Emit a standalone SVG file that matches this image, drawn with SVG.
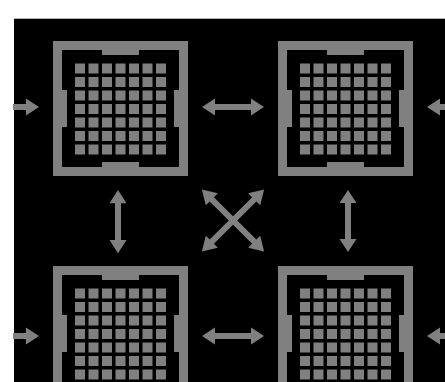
<svg xmlns="http://www.w3.org/2000/svg" xmlns:xlink="http://www.w3.org/1999/xlink" width="445" height="382" viewBox="0 0 445 382">
<style>
.g{fill:#808080}
</style>
<defs>
<g id="chip" class="g">
<path fill-rule="evenodd" d="M0,0H135V135H0Z M9,9V126H126V9Z"/>
<rect x="49" y="9" width="37" height="5"/>
<rect x="49" y="121" width="37" height="5"/>
<rect x="9" y="49" width="5" height="37"/>
<rect x="121" y="49" width="5" height="37"/>
<g id="row">
<rect x="22" y="22.5" width="10" height="10"/>
<rect x="35.5" y="22.5" width="10" height="10"/>
<rect x="49" y="22.5" width="10" height="10"/>
<rect x="62.5" y="22.5" width="10" height="10"/>
<rect x="76" y="22.5" width="10" height="10"/>
<rect x="89.5" y="22.5" width="10" height="10"/>
<rect x="103" y="22.5" width="10" height="10"/>
</g>
<use xlink:href="#row" href="#row" y="13.5"/>
<use xlink:href="#row" href="#row" y="27"/>
<use xlink:href="#row" href="#row" y="40.5"/>
<use xlink:href="#row" href="#row" y="54"/>
<use xlink:href="#row" href="#row" y="67.5"/>
<use xlink:href="#row" href="#row" y="81"/>
</g>
<polygon id="dbl" points="0,0 13,-8.5 13,-3 49,-3 49,-8.5 62,0 49,8.5 49,3 13,3 13,8.5"/>
<polygon id="diag" points="0,0 14,-8.5 14,-3 74,-3 74,-8.5 88,0 74,8.5 74,3 14,3 14,8.5"/>
</defs>
<rect x="0" y="0" width="445" height="382" fill="#ffffff"/>
<rect x="14" y="18" width="431" height="364" fill="#000000"/>
<line x1="14" y1="18.5" x2="445" y2="18.5" stroke="#b4b4b4" stroke-width="1"/>
<g id="node1"><use xlink:href="#chip" href="#chip" x="53" y="41"/></g>
<g id="node2"><use xlink:href="#chip" href="#chip" x="278" y="41"/></g>
<g id="node3"><use xlink:href="#chip" href="#chip" x="53" y="266"/></g>
<g id="node4"><use xlink:href="#chip" href="#chip" x="278" y="266"/></g>
<g id="connectors" class="g">
<polygon points="13,104 26,104 26,98.5 39,107 26,115.5 26,110 13,110"/>
<polygon points="427,107 440,98.5 440,104 446,104 446,110 440,110 440,115.5"/>
<polygon points="13,333 26,333 26,327.5 39,336 26,344.5 26,339 13,339"/>
<polygon points="427,336 440,327.5 440,333 446,333 446,339 440,339 440,344.5"/>
<use xlink:href="#dbl" href="#dbl" transform="translate(202,107)"/>
<use xlink:href="#dbl" href="#dbl" transform="translate(202,336)"/>
<use xlink:href="#dbl" href="#dbl" transform="translate(118,190) rotate(90) scale(1.02,1)"/>
<use xlink:href="#dbl" href="#dbl" transform="translate(348,190) rotate(90)"/>
<use xlink:href="#diag" href="#diag" transform="translate(233,220.5) rotate(45) translate(-44,0)"/>
<use xlink:href="#diag" href="#diag" transform="translate(233,220.5) rotate(-45) translate(-44,0)"/>
</g>
</svg>
